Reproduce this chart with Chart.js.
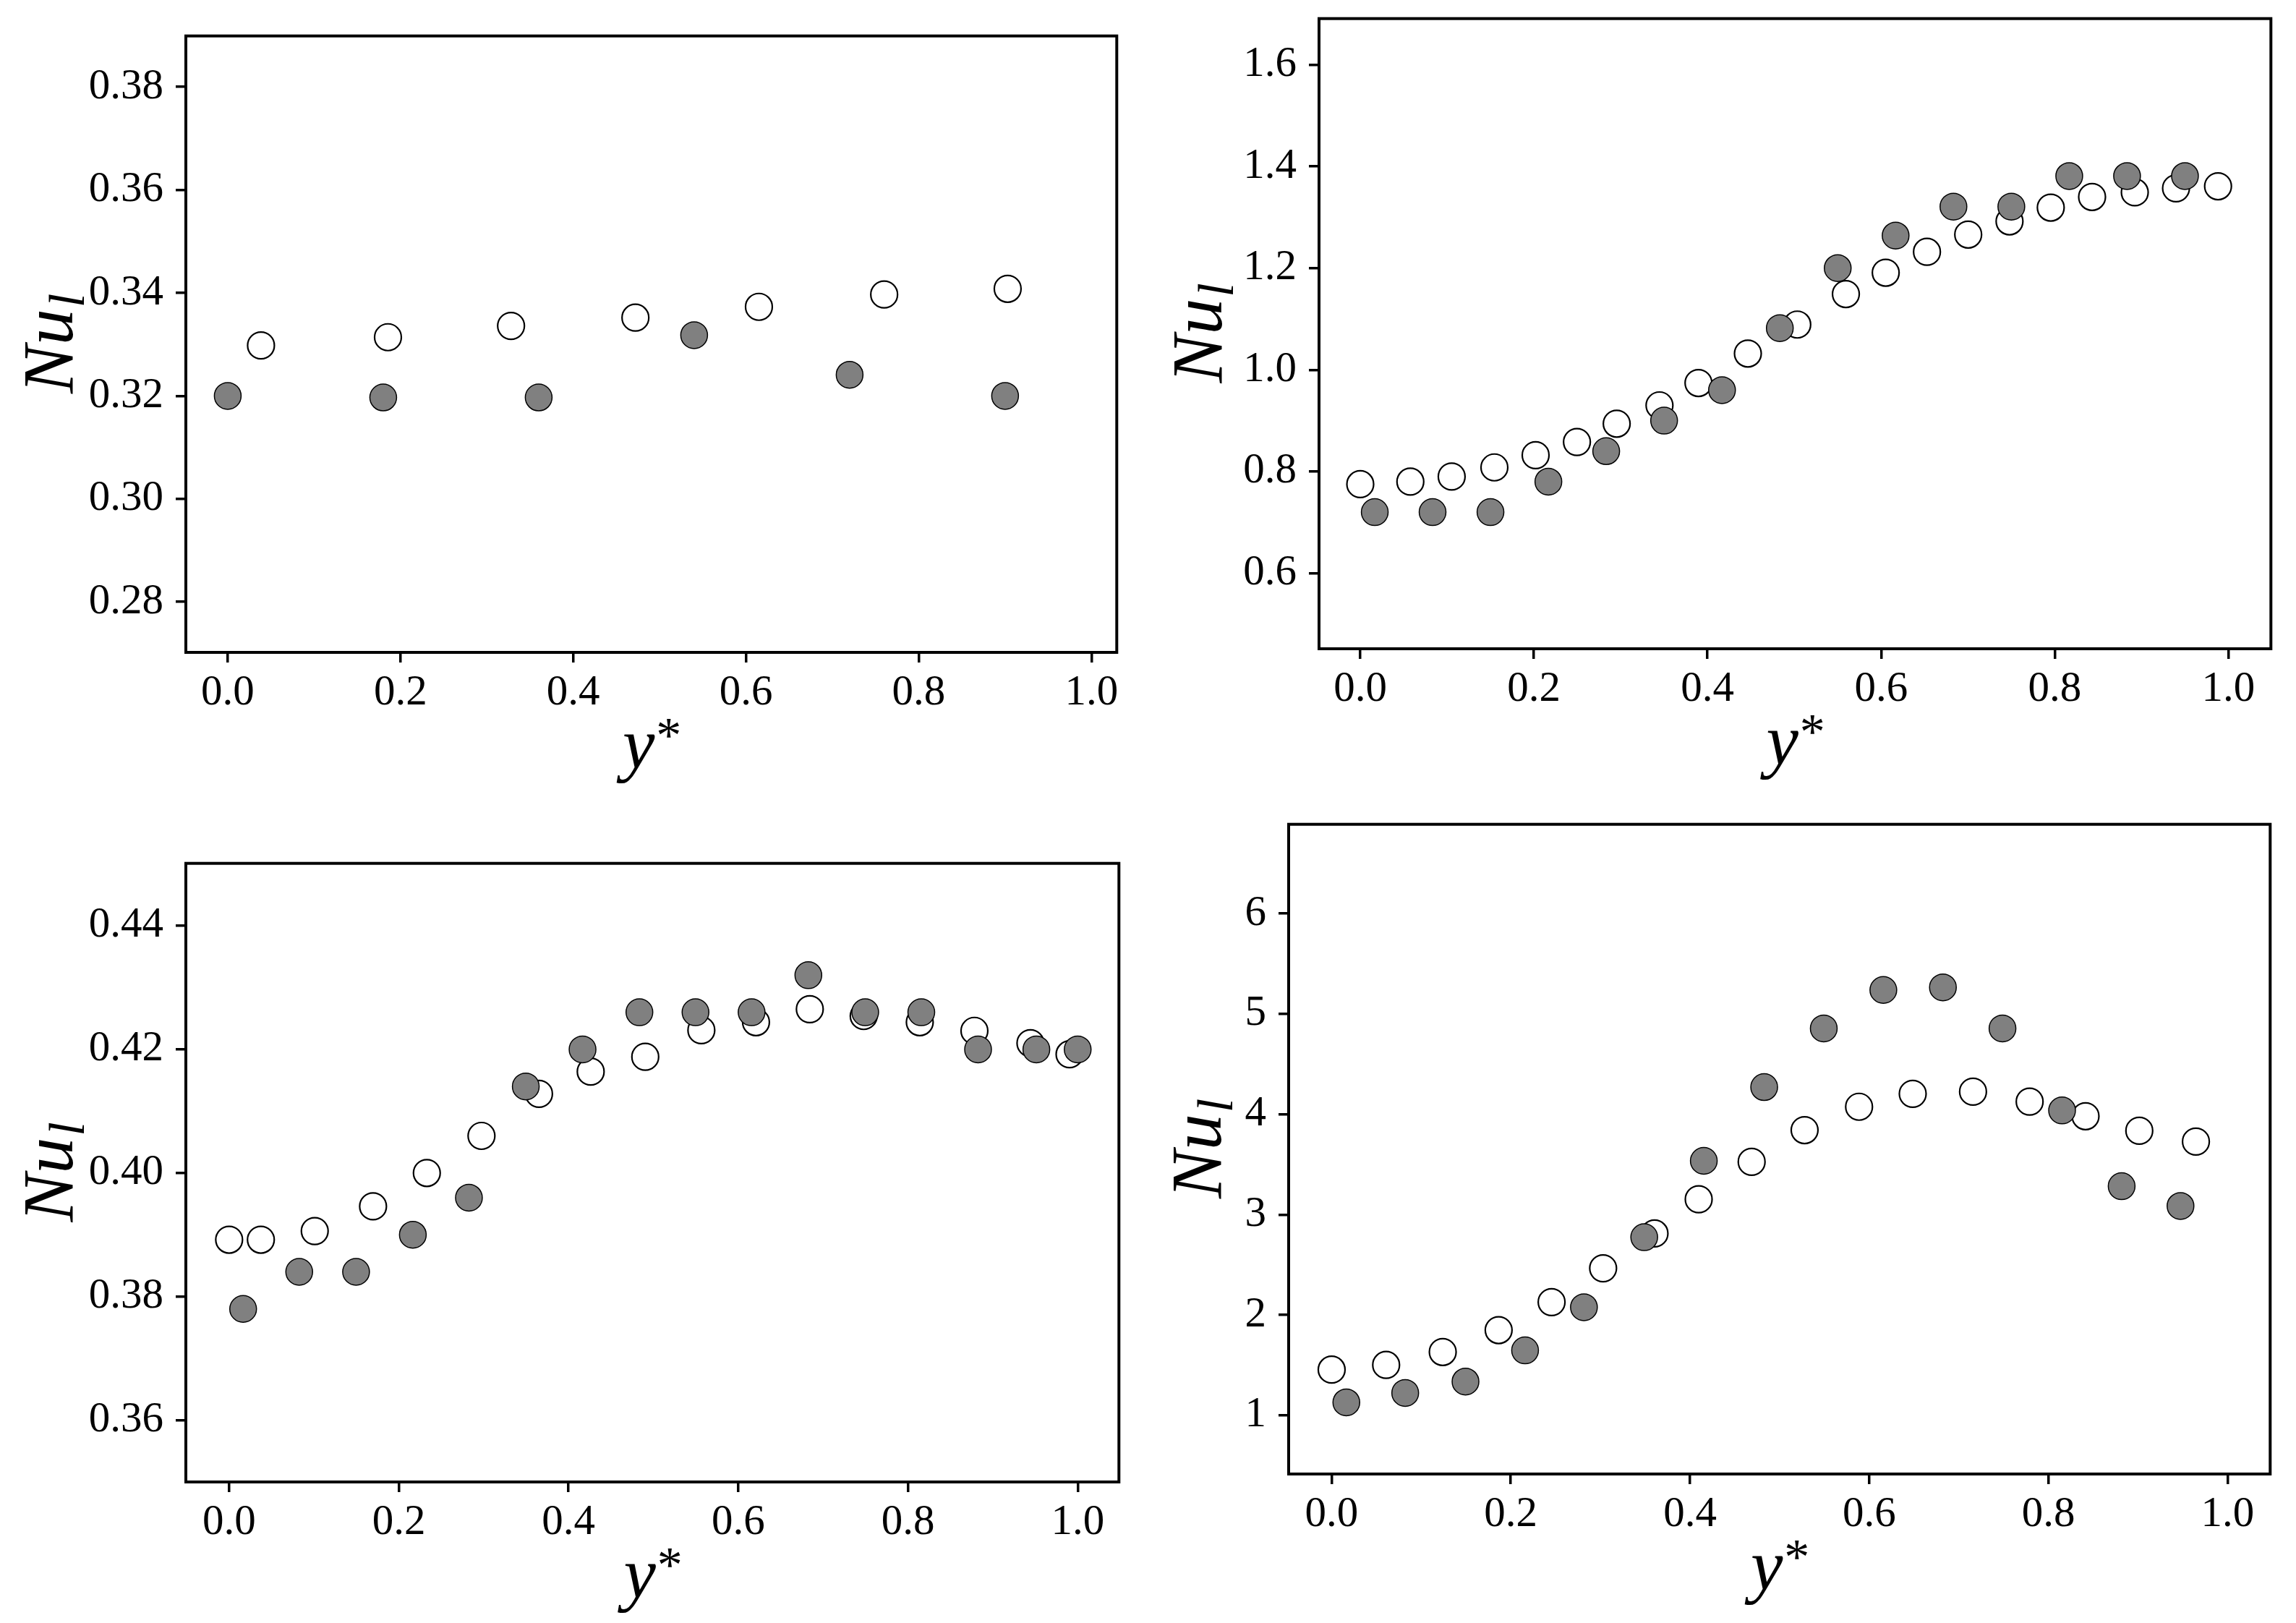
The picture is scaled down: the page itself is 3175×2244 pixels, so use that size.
<!DOCTYPE html>
<html>
<head>
<meta charset="utf-8">
<script src="https://cdn.jsdelivr.net/npm/chart.js@4.4.1/dist/chart.umd.min.js"></script>
<style>
  html, body { margin: 0; padding: 0; background: #ffffff; }
  body { width: 3175px; height: 2244px; position: relative; overflow: hidden; }
  canvas { position: absolute; }
</style>
</head>
<body>
<canvas id="c1"></canvas>
<canvas id="c2"></canvas>
<canvas id="c3"></canvas>
<canvas id="c4"></canvas>
<script>
// ---------------- data ----------------
const xTicks = [0, 0.2, 0.4, 0.6, 0.8, 1.0];

// Panel 1 (top left)
const p1FilledX = [0.0, 0.18, 0.36, 0.54, 0.72, 0.90];
const p1FilledY = [0.3200, 0.3197, 0.3197, 0.3318, 0.3241, 0.3200];
const p1OpenX = [0.0385, 0.1855, 0.328, 0.472, 0.615, 0.760, 0.903];
const p1OpenY = [0.3298, 0.3314, 0.3336, 0.3352, 0.3373, 0.3397, 0.3408];
const p1YTicks = [0.28, 0.30, 0.32, 0.34, 0.36, 0.38];

// Panel 2 (top right)
const p2FilledX = [0.0167, 0.0833, 0.15, 0.2167, 0.2833, 0.35, 0.4167, 0.4833, 0.55, 0.6167, 0.6833, 0.75, 0.8167, 0.8833, 0.95];
const p2FilledY = [0.72, 0.72, 0.72, 0.78, 0.84, 0.90, 0.96, 1.082, 1.20, 1.264, 1.321, 1.321, 1.381, 1.381, 1.381];
const p2OpenX = [0.0, 0.0577, 0.1053, 0.1545, 0.202, 0.2496, 0.2954, 0.3447, 0.3896, 0.4465, 0.5034, 0.5594, 0.6053, 0.6528, 0.7003, 0.7479, 0.7954, 0.843, 0.8922, 0.9397, 0.9881];
const p2OpenY = [0.775, 0.780, 0.790, 0.808, 0.832, 0.858, 0.894, 0.930, 0.974, 1.032, 1.089, 1.149, 1.191, 1.232, 1.266, 1.292, 1.319, 1.340, 1.349, 1.357, 1.361];
const p2YTicks = [0.6, 0.8, 1.0, 1.2, 1.4, 1.6];

// Panel 3 (bottom left)
const p3FilledX = [0.0165, 0.0826, 0.1496, 0.2165, 0.2826, 0.3496, 0.4165, 0.4835, 0.5496, 0.6157, 0.6826, 0.7496, 0.8157, 0.8826, 0.9513, 1.0];
const p3FilledY = [0.378, 0.384, 0.384, 0.390, 0.396, 0.414, 0.420, 0.426, 0.426, 0.426, 0.432, 0.426, 0.426, 0.420, 0.420, 0.420];
const p3OpenX = [0.0, 0.0374, 0.1009, 0.1696, 0.233, 0.2974, 0.3652, 0.4261, 0.4904, 0.5565, 0.6209, 0.6843, 0.7478, 0.8139, 0.8783, 0.9443, 0.9904];
const p3OpenY = [0.3892, 0.3892, 0.3906, 0.3946, 0.4000, 0.4060, 0.4128, 0.4164, 0.4188, 0.4231, 0.4244, 0.4265, 0.4254, 0.4244, 0.4230, 0.4210, 0.4192];
const p3YTicks = [0.36, 0.38, 0.40, 0.42, 0.44];

// Panel 4 (bottom right)
const p4FilledX = [0.0164, 0.0821, 0.1494, 0.2159, 0.2816, 0.3489, 0.4154, 0.4828, 0.5493, 0.6158, 0.6823, 0.7488, 0.8153, 0.8818, 0.9475];
const p4FilledY = [1.129, 1.223, 1.336, 1.647, 2.077, 2.775, 3.536, 4.271, 4.856, 5.239, 5.265, 4.856, 4.038, 3.283, 3.086];
const p4OpenX = [0.0, 0.0608, 0.124, 0.1864, 0.2455, 0.303, 0.3604, 0.4097, 0.4688, 0.5279, 0.5887, 0.6486, 0.7159, 0.7791, 0.8415, 0.9015, 0.9647];
const p4OpenY = [1.455, 1.502, 1.631, 1.849, 2.128, 2.465, 2.812, 3.153, 3.526, 3.842, 4.075, 4.204, 4.225, 4.126, 3.981, 3.836, 3.728];
const p4YTicks = [1, 2, 3, 4, 5, 6];

// ---------------- helpers ----------------
const FONT = "'Liberation Serif', 'DejaVu Serif', serif";
const L = 250, T = 20, R = 20, B = 190;

function pts(xs, ys) { return xs.map((x, i) => ({ x: x, y: ys[i] })); }

const framePlugin = {
  id: 'frameAndTitles',
  afterDraw(chart) {
    const ctx = chart.ctx, a = chart.chartArea;
    const o = chart.options.plugins.frameAndTitles;
    ctx.save();
    ctx.strokeStyle = '#000';
    ctx.lineWidth = 4;
    ctx.strokeRect(a.left, a.top, a.right - a.left, a.bottom - a.top);

    ctx.fillStyle = '#000';
    // y-axis title: Nu_l (rotated)
    ctx.save();
    ctx.translate(a.left - o.yTitleOffset, (a.top + a.bottom) / 2);
    ctx.rotate(-Math.PI / 2);
    ctx.textBaseline = 'alphabetic';
    ctx.font = 'italic 100px ' + FONT;
    const wN = ctx.measureText('Nu').width;
    ctx.font = 'italic 70px ' + FONT;
    const wl = ctx.measureText('l').width;
    const start = -(wN + wl) / 2;
    ctx.font = 'italic 100px ' + FONT;
    ctx.fillText('Nu', start, 0);
    ctx.font = 'italic 70px ' + FONT;
    ctx.fillText('l', start + wN + 2, 16);
    ctx.restore();

    // x-axis title: y*
    ctx.save();
    ctx.textBaseline = 'alphabetic';
    ctx.font = 'italic 100px ' + FONT;
    const wy = ctx.measureText('y').width;
    ctx.font = '70px ' + FONT;
    const ws = ctx.measureText('*').width;
    const cx = (a.left + a.right) / 2;
    const by = a.bottom + o.xTitleOffset;
    const sx = cx - (wy + ws) / 2;
    ctx.font = 'italic 100px ' + FONT;
    ctx.fillText('y', sx, by);
    ctx.font = '70px ' + FONT;
    ctx.fillText('*', sx + wy + 2, by - 22);
    ctx.restore();
    ctx.restore();
  }
};

function makePanel(id, box, xMin, xMax, yMin, yMax, yTicks, yDec, fX, fY, oX, oY, yTitleOffset) {
  const canvas = document.getElementById(id);
  const w = box.r - box.l, h = box.b - box.t;
  canvas.width = L + w + R;
  canvas.height = T + h + B;
  canvas.style.width = canvas.width + 'px';
  canvas.style.height = canvas.height + 'px';
  canvas.style.left = (box.l - L) + 'px';
  canvas.style.top = (box.t - T) + 'px';

  const tickFont = { family: FONT, size: 59 };
  const gridOpts = {
    display: true, drawOnChartArea: false, drawTicks: true,
    tickLength: 14, tickWidth: 3.5, lineWidth: 3.5, color: '#000', tickColor: '#000'
  };

  return new Chart(canvas, {
    type: 'scatter',
    data: {
      datasets: [
        {
          label: 'filled', data: pts(fX, fY), order: 0,
          backgroundColor: '#808080', borderColor: '#000000', borderWidth: 1.5,
          pointRadius: 18.5, pointHoverRadius: 18.5, pointStyle: 'circle'
        },
        {
          label: 'open', data: pts(oX, oY), order: 1,
          backgroundColor: '#ffffff', borderColor: '#000000', borderWidth: 2.2,
          pointRadius: 18.5, pointHoverRadius: 18.5, pointStyle: 'circle'
        }
      ]
    },
    options: {
      responsive: false,
      devicePixelRatio: 1,
      animation: false,
      events: [],
      layout: { padding: { left: 0, top: T, right: R, bottom: 0 } },
      plugins: {
        legend: { display: false },
        tooltip: { enabled: false },
        frameAndTitles: { yTitleOffset: yTitleOffset, xTitleOffset: 160 }
      },
      scales: {
        x: {
          type: 'linear', position: 'bottom', min: xMin, max: xMax,
          grid: gridOpts,
          border: { display: false },
          ticks: {
            font: tickFont, color: '#000', padding: 7, autoSkip: false, maxRotation: 0,
            callback: v => Number(v).toFixed(1)
          },
          afterBuildTicks: s => { s.ticks = xTicks.map(v => ({ value: v })); },
          afterFit: s => { s.height = B; s.paddingLeft = 0; s.paddingRight = 0; }
        },
        y: {
          type: 'linear', position: 'left', min: yMin, max: yMax,
          grid: gridOpts,
          border: { display: false },
          ticks: {
            font: tickFont, color: '#000', padding: 17, autoSkip: false,
            callback: v => Number(v).toFixed(yDec)
          },
          afterBuildTicks: s => { s.ticks = yTicks.map(v => ({ value: v })); },
          afterFit: s => { s.width = L; s.paddingTop = 0; s.paddingBottom = 0; }
        }
      }
    },
    plugins: [framePlugin]
  });
}

makePanel('c1', { l: 257, t: 49, r: 1545, b: 902 }, -0.0485, 1.0293, 0.2702, 0.3899, p1YTicks, 2,
  p1FilledX, p1FilledY, p1OpenX, p1OpenY, 157);
makePanel('c2', { l: 1824, t: 25, r: 3141, b: 897 }, -0.0475, 1.049, 0.4513, 1.6908, p2YTicks, 1,
  p2FilledX, p2FilledY, p2OpenX, p2OpenY, 135);
makePanel('c3', { l: 257, t: 1193, r: 1548, b: 2049 }, -0.051, 1.0486, 0.350, 0.4501, p3YTicks, 2,
  p3FilledX, p3FilledY, p3OpenX, p3OpenY, 157);
makePanel('c4', { l: 1782, t: 1139, r: 3140, b: 2038 }, -0.048, 1.0476, 0.415, 6.890, p4YTicks, 0,
  p4FilledX, p4FilledY, p4OpenX, p4OpenY, 94);
</script>
</body>
</html>
